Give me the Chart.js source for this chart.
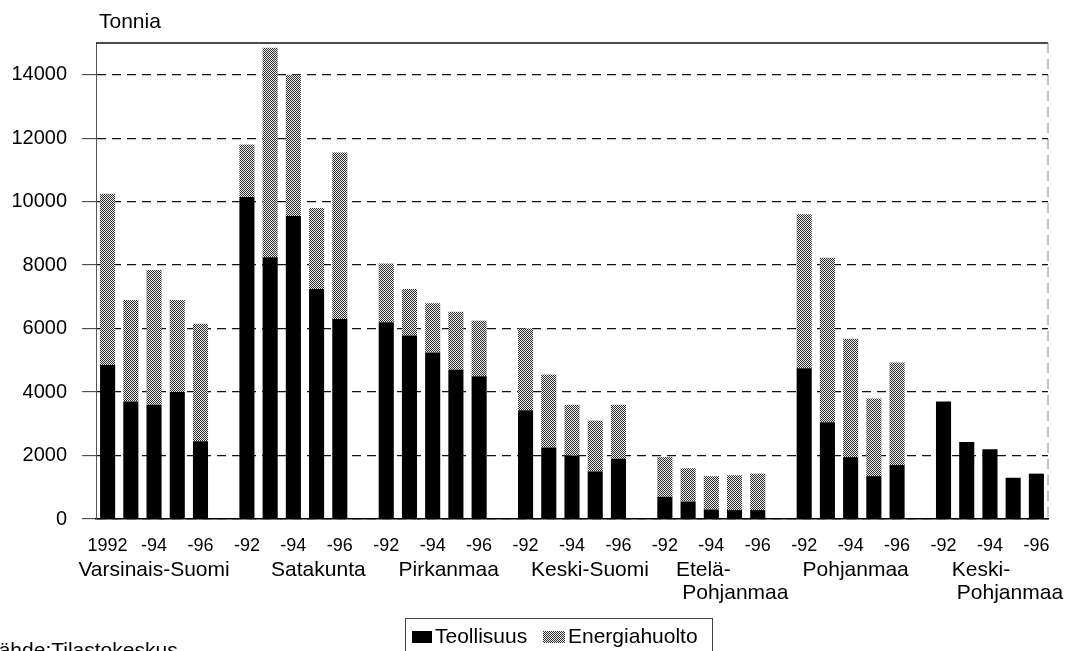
<!DOCTYPE html>
<html>
<head>
<meta charset="utf-8">
<script src="https://cdn.jsdelivr.net/npm/chart.js@4.4.1/dist/chart.umd.min.js"></script>
<style>
  html, body { margin: 0; padding: 0; background: #fff; }
  #wrap { width: 1066px; height: 651px; position: relative; }
</style>
</head>
<body>
<div id="wrap"><canvas id="chart"></canvas></div>
<script>
// regions, one group of five years each (1992-1996)
const regions = [
  ['Varsinais-Suomi'],
  ['Satakunta'],
  ['Pirkanmaa'],
  ['Keski-Suomi'],
  ['Etelä-', 'Pohjanmaa'],
  ['Pohjanmaa'],
  ['Keski-', 'Pohjanmaa']
];
const yearTicks = ['-92', '', '-94', '', '-96'];
const firstYearTick = '1992';

// tonnes, 5 values per region
const teollisuus = [
  4850, 3700, 3600, 4000, 2450,
  10150, 8250, 9550, 7250, 6300,
  6200, 5780, 5250, 4700, 4500,
  3430, 2250, 2000, 1500, 1900,
  700, 550, 300, 280, 280,
  4750, 3050, 1950, 1350, 1700,
  3700, 2430, 2200, 1300, 1430
];
const energiahuolto = [
  5400, 3200, 4250, 2900, 3700,
  1650, 6600, 4450, 2550, 5250,
  1850, 1470, 1550, 1830, 1750,
  2570, 2300, 1600, 1600, 1700,
  1250, 1050, 1050, 1100, 1150,
  4850, 5180, 3730, 2450, 3230,
  0, 0, 0, 0, 0
];
const yTicks = [0, 2000, 4000, 6000, 8000, 10000, 12000, 14000];

// spread the 35 values into slots with an empty slot between regions
const labels = [];
const indSlots = [];
const engSlots = [];
const groupMid = [];
regions.forEach((r, g) => {
  if (g > 0) { labels.push(''); indSlots.push(null); engSlots.push(null); }
  for (let i = 0; i < 5; i++) {
    if (i === 2) groupMid.push(labels.length);
    labels.push(g === 0 && i === 0 ? firstYearTick : yearTicks[i]);
    indSlots.push(teollisuus[g * 5 + i]);
    engSlots.push(energiahuolto[g * 5 + i]);
  }
});

function stipple() {
  const c = document.createElement('canvas');
  c.width = 2; c.height = 2;
  const g = c.getContext('2d');
  g.fillStyle = '#ececec';
  g.fillRect(0, 0, 2, 2);
  g.fillStyle = '#2e2e2e';
  g.fillRect(0, 0, 1, 1);
  g.fillRect(1, 1, 1, 1);
  return g.createPattern(c, 'repeat');
}
const grayFill = stipple();

const FONT = '"Liberation Sans", Arial, sans-serif';

// extra text: unit label, region names, legend box, source line, frame
const decorations = {
  id: 'decorations',
  afterDraw(chart) {
    const ctx = chart.ctx;
    const a = chart.chartArea;
    const x = chart.scales.x;
    ctx.save();

    // frame: solid top, faint dashed right edge
    ctx.strokeStyle = '#111';
    ctx.lineWidth = 1.5;
    ctx.beginPath();
    ctx.moveTo(a.left, a.top);
    ctx.lineTo(a.right, a.top);
    ctx.stroke();
    ctx.strokeStyle = '#888';
    ctx.lineWidth = 1;
    ctx.setLineDash([10, 6]);
    ctx.beginPath();
    ctx.moveTo(a.right, a.top);
    ctx.lineTo(a.right, a.bottom);
    ctx.stroke();
    ctx.setLineDash([]);

    ctx.fillStyle = '#000';
    ctx.font = '21px ' + FONT;
    ctx.textAlign = 'left';
    ctx.textBaseline = 'middle';
    ctx.fillText('Tonnia', 99, 22);

    // region names under the year ticks
    const shifts = [[0], [25], [16], [18], [-8, 24], [5], [-9, 20]];
    ctx.textAlign = 'center';
    regions.forEach((lines, g) => {
      const cx = x.getPixelForValue(groupMid[g]);
      lines.forEach((t, k) => {
        ctx.fillText(t, cx + shifts[g][k], 570 + k * 23);
      });
    });

    // legend
    ctx.strokeStyle = '#444';
    ctx.lineWidth = 1;
    ctx.strokeRect(405.5, 618.5, 307, 60);
    ctx.font = '21px ' + FONT;
    ctx.textAlign = 'left';
    const ds = chart.data.datasets;
    ctx.fillStyle = ds[0].backgroundColor;
    ctx.fillRect(412, 631, 20, 12);
    ctx.fillStyle = ds[1].backgroundColor;
    ctx.fillRect(543, 631, 22, 12);
    ctx.fillStyle = '#000';
    ctx.fillText(ds[0].label, 435, 637);
    ctx.fillText(ds[1].label, 568, 637);

    ctx.fillText('Lähde:Tilastokeskus', -13, 651);
    ctx.restore();
  }
};

new Chart(document.getElementById('chart'), {
  type: 'bar',
  data: {
    labels: labels,
    datasets: [
      {
        label: 'Teollisuus',
        data: indSlots,
        backgroundColor: '#000',
        barPercentage: 0.65,
        categoryPercentage: 1
      },
      {
        label: 'Energiahuolto',
        data: engSlots,
        backgroundColor: grayFill,
        barPercentage: 0.65,
        categoryPercentage: 1
      }
    ]
  },
  options: {
    responsive: true,
    maintainAspectRatio: false,
    animation: false,
    layout: { padding: { top: 43, right: 18, left: 0, bottom: 0 } },
    plugins: {
      legend: { display: false },
      tooltip: { enabled: false }
    },
    scales: {
      x: {
        stacked: true,
        grid: { display: false, drawTicks: false },
        border: { display: true, color: '#000', width: 1.5 },
        ticks: {
          color: '#000',
          font: { family: FONT, size: 18 },
          padding: 16,
          autoSkip: false,
          maxRotation: 0
        },
        afterFit(scale) { scale.height = 132; }
      },
      y: {
        stacked: true,
        min: 0,
        max: 15000,
        afterBuildTicks(scale) {
          scale.ticks = yTicks.map(v => ({ value: v }));
        },
        grid: {
          color: '#111',
          lineWidth: 1.3,
          tickLength: 14,
          tickBorderDash: [],
          tickColor: '#333',
          tickWidth: 1
        },
        border: { display: true, color: '#555', width: 1, dash: [9, 6] },
        ticks: {
          color: '#000',
          font: { family: FONT, size: 20 },
          padding: 15,
          callback: v => String(v)
        },
        afterFit(scale) { scale.width = 96; }
      }
    }
  },
  plugins: [decorations]
});
</script>
</body>
</html>
